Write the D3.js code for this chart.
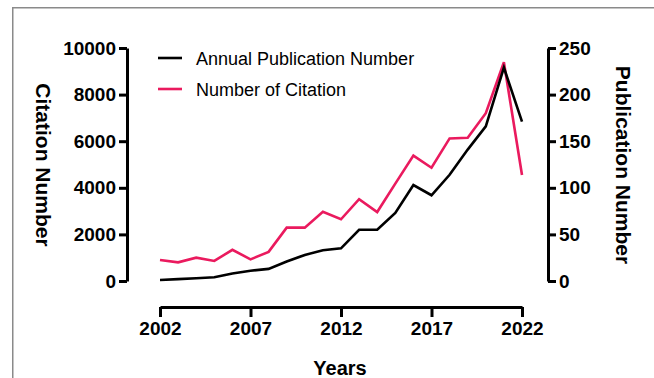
<!DOCTYPE html>
<html><head><meta charset="utf-8">
<script src="https://cdn.jsdelivr.net/npm/d3@7"></script>
<style>html,body{margin:0;padding:0;background:#fff;}svg{display:block;}</style>
</head><body>
<script>
const years = [2002,2003,2004,2005,2006,2007,2008,2009,2010,2011,2012,2013,2014,2015,2016,2017,2018,2019,2020,2021,2022];
const publications = [1,2,3,4,8,11,13,21,28,33,35,55,55,73,103,92,114,141,166,229,171];
const citations = [900,800,1000,860,1340,930,1250,2290,2290,2970,2650,3510,2960,4180,5380,4860,6120,6150,7200,9390,4550];
const leftTicks = [0,2000,4000,6000,8000,10000];
const rightTicks = [0,50,100,150,200,250];
const xTicks = [2002,2007,2012,2017,2022];
const legendLabels = ["Annual Publication Number","Number of Citation"];
const colors = ["#000000","#ea1a5e"];

const W = 654, H = 378;
const svg = d3.select("body").append("svg").attr("width", W).attr("height", H);
svg.append("rect").attr("width", W).attr("height", H).attr("fill", "#fff");
// frame
svg.append("path").attr("d", `M12.75,${H} V7.75 H${W}`).attr("fill","none").attr("stroke","#8a8a8a").attr("stroke-width",1.5);

const x = d3.scaleLinear().domain([2002,2022]).range([160,522]);
const yL = d3.scaleLinear().domain([0,10000]).range([281,48]);
const yR = d3.scaleLinear().domain([0,250]).range([281,48]);

const tickFont = "bold 19px 'Liberation Sans', Arial, sans-serif";

function styleAxis(g){
  g.selectAll(".domain").attr("stroke","#000").attr("stroke-width",3);
  g.selectAll(".tick line").attr("stroke","#000").attr("stroke-width",3);
  g.selectAll(".tick text").style("font", tickFont).attr("fill","#000");
}

const gL = svg.append("g").attr("transform","translate(127,0)")
  .call(d3.axisLeft(yL).tickValues(leftTicks).tickSize(8).tickSizeOuter(0).tickFormat(d3.format("d")).tickPadding(3));
styleAxis(gL);
const gR = svg.append("g").attr("transform","translate(548,0)")
  .call(d3.axisRight(yR).tickValues(rightTicks).tickSize(8).tickSizeOuter(0).tickFormat(d3.format("d")).tickPadding(3));
styleAxis(gR);
const gX = svg.append("g").attr("transform","translate(0,307)")
  .call(d3.axisBottom(x).tickValues(xTicks).tickSize(10).tickSizeOuter(0).tickFormat(d3.format("d")).tickPadding(5));
styleAxis(gX);

const titleFont = "bold 21px 'Liberation Sans', Arial, sans-serif";
svg.append("text").attr("transform","translate(36,165) rotate(90)").attr("text-anchor","middle")
  .style("font", titleFont).text("Citation Number");
svg.append("text").attr("transform","translate(616,165) rotate(90)").attr("text-anchor","middle")
  .style("font", titleFont).text("Publication Number");
svg.append("text").attr("x",340).attr("y",375).attr("text-anchor","middle")
  .style("font", "bold 20px 'Liberation Sans', Arial, sans-serif").text("Years");

const linePub = d3.line().x((d,i)=>x(years[i])).y(d=>yR(d));
const lineCit = d3.line().x((d,i)=>x(years[i])).y(d=>yL(d));
svg.append("path").datum(citations).attr("d", lineCit).attr("fill","none").attr("stroke",colors[1]).attr("stroke-width",2.6).attr("stroke-linejoin","miter");
svg.append("path").datum(publications).attr("d", linePub).attr("fill","none").attr("stroke",colors[0]).attr("stroke-width",2.6).attr("stroke-linejoin","miter");

// legend
legendLabels.forEach((lab,i)=>{
  const yy = 58 + i*31;
  svg.append("line").attr("x1",158).attr("x2",182).attr("y1",yy).attr("y2",yy).attr("stroke",colors[i]).attr("stroke-width",2.6);
  svg.append("text").attr("x",196).attr("y",yy+6.5).style("font","18px 'Liberation Sans', Arial, sans-serif").attr("fill","#000").text(lab);
});
</script>
</body></html>
